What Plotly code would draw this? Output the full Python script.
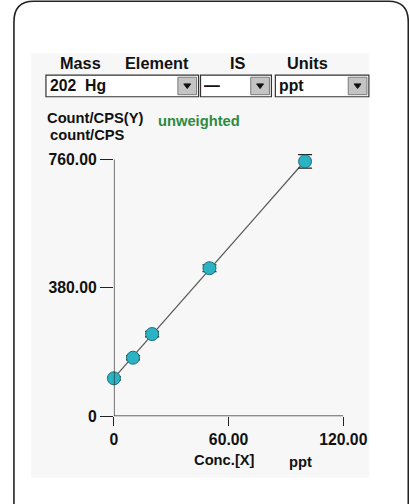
import numpy as np
import plotly.graph_objects as go

# ---- data ----
conc = [0, 10, 20, 50, 100]
counts = [112, 173, 243, 438, 754]
errors = [5, 6, 8, 10, 20]
x_tickvals = [0, 60, 120]
x_ticktext = ["0", "60.00", "120.00"]
y_tickvals = [0, 380, 760]
y_ticktext = ["0", "380.00", "760.00"]
headers = ["Mass", "Element", "IS", "Units"]
dropdown_texts = ["202  Hg", "—", "ppt"]

# figure size (css px) and measured screen mapping of the capture
FW, FH = 440, 525
SX, BX = 0.951, 2.4
SY, BY = 0.957, 9.8
FONT = "Liberation Sans"


def X(xs):
    """screen x target -> paper fraction"""
    return ((xs - BX) / SX) / FW


def Y(ys):
    """screen y target -> paper fraction"""
    return 1 - ((ys - BY) / SY) / FH


def fs(v):
    return v / SX


slope, intercept = np.polyfit(conc, counts, 1)
fit_x = [min(conc), max(conc)]
fit_y = [slope * v + intercept for v in fit_x]

fig = go.Figure()
fig.add_trace(go.Scatter(x=fit_x, y=fit_y, mode="lines",
                         line=dict(color="#555555", width=1.2),
                         hoverinfo="skip", showlegend=False, cliponaxis=False))
fig.add_trace(go.Scatter(x=conc, y=counts, mode="markers",
                         marker=dict(size=13, color="#2bb3c4",
                                     line=dict(color="#1d6f7a", width=1)),
                         error_y=dict(type="data", array=errors, visible=True,
                                      color="#222222", thickness=1.3, width=7),
                         showlegend=False, cliponaxis=False))

shapes = []
# outer rounded frame (kept well inside the figure so the page never overflows)
path = (f"M {X(12.5)} {Y(512)} L {X(12.5)} {Y(31)} "
        f"Q {X(12.5)} {Y(11)} {X(32.5)} {Y(11)} "
        f"L {X(393)} {Y(11)} Q {X(413)} {Y(11)} {X(413)} {Y(31)} L {X(413)} {Y(512)}")
shapes.append(dict(type="path", xref="paper", yref="paper", path=path,
                   line=dict(color="#222222", width=1.6)))
shapes.append(dict(type="rect", xref="paper", yref="paper", layer="below",
                   x0=X(30), x1=X(373), y0=Y(62), y1=Y(475),
                   fillcolor="#f7f7f7", line=dict(width=0)))

boxes = [(45, 200), (202, 274), (278, 373)]
by0, by1 = 83, 104
annotations = []
for (bx0, bx1), txt in zip(boxes, dropdown_texts):
    shapes.append(dict(type="rect", xref="paper", yref="paper",
                       x0=X(bx0), x1=X(bx1), y0=Y(by1), y1=Y(by0),
                       fillcolor="white", line=dict(color="#333333", width=1.2)))
    shapes.append(dict(type="rect", xref="paper", yref="paper",
                       x0=X(bx1 - 21), x1=X(bx1 - 2), y0=Y(by1 - 2), y1=Y(by0 + 2),
                       fillcolor="#c4c4c4", line=dict(color="#7a7a7a", width=1)))
    shapes.append(dict(type="path", xref="paper", yref="paper",
                       path=(f"M {X(bx1 - 15)} {Y(91.5)} L {X(bx1 - 8)} {Y(91.5)} "
                             f"L {X(bx1 - 11.5)} {Y(96)} Z"),
                       fillcolor="#111111", line=dict(color="#111111", width=1)))
    annotations.append(dict(x=X(bx0 + 2), y=Y(93.5), xref="paper", yref="paper",
                            text=f"<b>{txt}</b>", showarrow=False, xanchor="left",
                            yanchor="middle",
                            font=dict(family=FONT, size=fs(15), color="#111111")))

header_x = [80, 158, 240, 311]
for hx, t in zip(header_x, headers):
    annotations.append(dict(x=X(hx), y=Y(71), xref="paper", yref="paper",
                            text=f"<b>{t}</b>", showarrow=False, xanchor="center",
                            yanchor="middle",
                            font=dict(family=FONT, size=fs(15.5), color="#111111")))

annotations += [
    dict(x=X(44), y=Y(125), xref="paper", yref="paper", text="<b>Count/CPS(Y)</b>",
         showarrow=False, xanchor="left", yanchor="middle",
         font=dict(family=FONT, size=fs(14), color="#111111")),
    dict(x=X(47), y=Y(141), xref="paper", yref="paper", text="<b>count/CPS</b>",
         showarrow=False, xanchor="left", yanchor="middle",
         font=dict(family=FONT, size=fs(14), color="#111111")),
    dict(x=X(157), y=Y(128), xref="paper", yref="paper", text="<b>unweighted</b>",
         showarrow=False, xanchor="left", yanchor="middle",
         font=dict(family=FONT, size=fs(14), color="#2e8b3e")),
    dict(x=X(226), y=Y(458), xref="paper", yref="paper", text="<b>Conc.[X]</b>",
         showarrow=False, xanchor="center", yanchor="middle",
         font=dict(family=FONT, size=fs(14), color="#111111")),
    dict(x=X(304), y=Y(460), xref="paper", yref="paper", text="<b>ppt</b>",
         showarrow=False, xanchor="center", yanchor="middle",
         font=dict(family=FONT, size=fs(14), color="#111111")),
]

# y range padded above 760 so the top error cap is not clipped
Y_TOP = 800
y_top_px = 415 - (415 - 165) * Y_TOP / 760

fig.update_layout(
    width=FW, height=FH, margin=dict(l=0, r=0, t=0, b=0),
    paper_bgcolor="white", plot_bgcolor="rgba(0,0,0,0)",
    shapes=shapes, annotations=annotations,
    xaxis=dict(domain=[X(114), X(347)], range=[0, 120], showgrid=False,
               zeroline=False, showline=False, ticks="outside", ticklen=8.5,
               tickcolor="#222222", tickwidth=1.3,
               tickvals=x_tickvals, ticktext=[f"<b>{t}</b>" for t in x_ticktext],
               tickfont=dict(family=FONT, size=fs(15), color="#111111")),
    yaxis=dict(domain=[Y(415), Y(y_top_px)], range=[0, Y_TOP], showgrid=False,
               zeroline=False, showline=False, ticks="outside", ticklen=13,
               tickcolor="#222222", tickwidth=1.3,
               tickvals=y_tickvals, ticktext=[f"<b>{t}</b>" for t in y_ticktext],
               tickfont=dict(family=FONT, size=fs(15), color="#111111")),
)
fig.add_shape(type="line", xref="x", yref="y", x0=0, x1=0, y0=0, y1=760,
              line=dict(color="#222222", width=1.3))
fig.add_shape(type="line", xref="x", yref="y", x0=0, x1=120, y0=0, y1=0,
              line=dict(color="#222222", width=1.3))

fig.write_html("out.html", config={"displayModeBar": False},
               post_script="document.body.style.margin='0';"
                           "document.body.style.overflow='hidden';")
